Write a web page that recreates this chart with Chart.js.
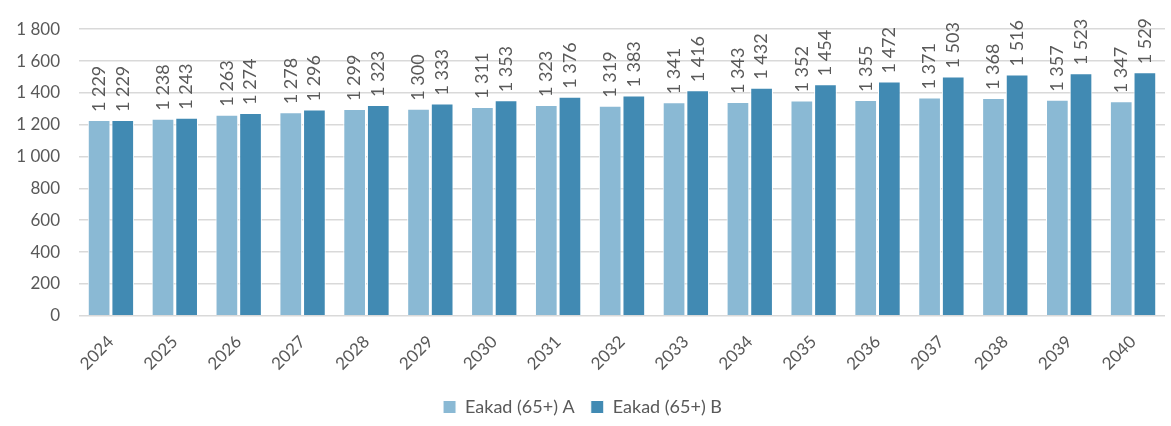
<!DOCTYPE html>
<html>
<head>
<meta charset="utf-8">
<script src="https://cdn.jsdelivr.net/npm/chart.js@4.4.0/dist/chart.umd.min.js"></script>
<style>
    html, body {margin: 0; padding: 0; background: #fff;}
    #wrap {position: relative; width: 1171px; height: 426px;}
</style>
</head>
<body>
<div id="wrap"><canvas id="c"></canvas></div>
<script>
// ─── data ───────────────────────────────────────────────────────────────
const years = ['2024', '2025', '2026', '2027', '2028', '2029', '2030', '2031', '2032',
    '2033', '2034', '2035', '2036', '2037', '2038', '2039', '2040'];
const seriesA = [1229, 1238, 1263, 1278, 1299, 1300, 1311, 1323, 1319,
    1341, 1343, 1352, 1355, 1371, 1368, 1357, 1347];
const seriesB = [1229, 1243, 1274, 1296, 1323, 1333, 1353, 1376, 1383,
    1416, 1432, 1454, 1472, 1503, 1516, 1523, 1529];
const labelA = 'Eakad (65+) A';
const labelB = 'Eakad (65+) B';

const FONT = 'Lato, "Open Sans", sans-serif';
const TXT = '#595959';

const fmt = v => String(v).replace(/\B(?=(\d{3})+(?!\d))/g, ' ');

// vertical value labels above each bar
const barLabels = {
    id: 'barLabels',
    afterDatasetsDraw(chart) {
        const ctx = chart.ctx;
        ctx.save();
        ctx.font = `18px ${FONT}`;
        ctx.fillStyle = TXT;
        ctx.textAlign = 'left';
        ctx.textBaseline = 'middle';
        chart.data.datasets.forEach((ds, i) => {
            chart.getDatasetMeta(i).data.forEach((bar, j) => {
                ctx.save();
                ctx.translate(bar.x, bar.y - 8);
                ctx.rotate(-Math.PI / 2);
                ctx.fillText(fmt(ds.data[j]), 0, 0);
                ctx.restore();
            });
        });
        ctx.restore();
    }
};

new Chart(document.getElementById('c'), {
    type: 'bar',
    data: {
        labels: years,
        datasets: [
            {
                label: labelA,
                data: seriesA,
                backgroundColor: '#8ab9d4',
                borderColor: '#ffffff',
                borderWidth: 1,
                categoryPercentage: 0.74,
                barPercentage: 0.96,
            },
            {
                label: labelB,
                data: seriesB,
                backgroundColor: '#418ab3',
                borderColor: '#ffffff',
                borderWidth: 1,
                categoryPercentage: 0.74,
                barPercentage: 0.96,
            },
        ],
    },
    options: {
        responsive: true,
        maintainAspectRatio: false,
        animation: false,
        devicePixelRatio: 1,
        layout: {padding: {top: 11, right: 6, left: 0, bottom: 0}},
        plugins: {
            legend: {
                position: 'bottom',
                labels: {
                    color: TXT,
                    font: {family: FONT, size: 18},
                    boxWidth: 13,
                    boxHeight: 13,
                    padding: 16,
                    useBorderRadius: false,
                },
            },
            tooltip: {enabled: false},
        },
        scales: {
            x: {
                grid: {display: false},
                border: {display: false},
                ticks: {
                    color: TXT,
                    font: {family: FONT, size: 17},
                    minRotation: 45,
                    maxRotation: 45,
                    padding: 8,
                },
            },
            y: {
                min: 0,
                max: 1800,
                grid: {color: '#d9d9d9', lineWidth: 1.5, drawTicks: false},
                border: {display: false},
                afterFit: s => { s.width = 79; },
                ticks: {
                    stepSize: 200,
                    color: TXT,
                    font: {family: FONT, size: 17},
                    padding: 19,
                    callback: v => fmt(v),
                },
            },
        },
    },
    plugins: [barLabels],
});
</script>
</body>
</html>
